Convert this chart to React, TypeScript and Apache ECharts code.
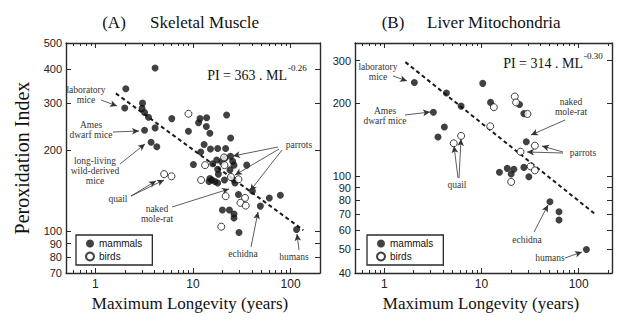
import React, { useEffect, useRef } from "react";
import * as echarts from "echarts";

// ---- Data ----
const muscleMammals: [number, number][] = [
  [2.05, 338], [2.0, 287], [4.09, 404], [3.04, 299], [3.01, 286], [3.19, 276], [3.5, 265], [6.06, 262],
  [3.19, 237], [4.09, 242], [3.72, 214], [4.26, 206],
  [8.98, 235], [11.8, 262], [13.8, 264], [11.4, 253], [13.7, 245], [14.9, 231], [22.1, 270], [24.3, 222],
  [13.0, 210], [15.1, 202], [17.9, 203], [21.6, 203], [12.0, 197], [10.1, 177], [15.9, 178], [17.5, 184],
  [19.7, 181], [21.3, 187], [24.2, 190], [25.5, 182], [26.3, 176], [35.5, 176], [18.2, 163], [14.9, 157],
  [16.8, 153], [14.6, 153], [15.6, 155], [17.9, 151], [21.0, 155], [26.3, 155], [26.9, 151], [40.6, 141],
  [29.2, 137], [60.5, 133], [78.5, 136], [49, 124], [20, 120], [23.6, 120], [26.3, 116], [26.3, 112],
  [29.6, 99], [115, 101.5], [23.9, 169], [17.9, 170],
];
const muscleBirds: [number, number][] = [
  [8.98, 273], [13.3, 176], [21.0, 176], [20.8, 188], [12.1, 155], [24.5, 159], [29.2, 156],
  [21.6, 135], [34.1, 133], [30.6, 127.5], [34.7, 124.5], [19.5, 104], [5.06, 163], [6.02, 160],
];
const muscleFit: [number, number][] = [[1.62, 325], [135, 101]];

const liverMammals: [number, number][] = [
  [2.04, 244], [4.36, 221], [6.17, 195], [10.3, 242], [12.4, 202], [3.2, 184], [4.15, 160], [3.57, 145.5],
  [24.6, 198], [27.3, 181.6], [28.9, 139], [15.3, 104], [18.4, 108], [21.5, 107], [20.2, 102.4],
  [27.3, 109], [30.7, 99.8], [50.6, 78.7], [62.7, 71.5], [62.7, 66.1], [120, 50],
];
const liverBirds: [number, number][] = [
  [13.4, 193], [5.18, 137], [6.17, 147], [12.3, 161], [22, 213.6], [22.7, 202], [29.7, 181],
  [35.4, 134], [25.2, 126.5], [20.2, 95], [32, 110], [35.4, 106],
];
const liverFit: [number, number][] = [[1.65, 296], [144, 70.5]];

const xMajor = [1, 10, 100];
const xMinor = [0.6, 0.7, 0.8, 0.9, 2, 3, 4, 5, 6, 7, 8, 9, 20, 30, 40, 50, 60, 70, 80, 90, 200];
const muscleYTicks = [70, 80, 90, 100, 200, 300, 400, 500];
const liverYTicks = [40, 50, 60, 70, 80, 90, 100, 200, 300];

const SERIF = "'Liberation Serif', 'Times New Roman', serif";
const SANS = "'Liberation Sans', Arial, sans-serif";
const AX = "#2a2a2a";
const INK = "#111";
const NOTE = "#333";

const axisLineStyle = { color: AX, width: 1.4 };

function xAxes(gi: number, min: number, max: number) {
  const base = { type: "log", gridIndex: gi, min, max, splitLine: { show: false } };
  return [
    {
      ...base, position: "bottom",
      axisLine: { show: true, onZero: false, lineStyle: axisLineStyle },
      axisTick: { show: true, inside: true, length: 5, customValues: xMajor, lineStyle: { color: AX, width: 1 } },
      axisLabel: { show: true, customValues: xMajor, color: "#222", fontSize: 12, fontFamily: SANS, margin: 5 },
    },
    {
      ...base, position: "bottom",
      axisLine: { show: false, onZero: false },
      axisTick: { show: true, inside: true, length: 3, customValues: xMinor, lineStyle: { color: AX, width: 1 } },
      axisLabel: { show: false },
    },
    {
      ...base, position: "top",
      axisLine: { show: true, onZero: false, lineStyle: axisLineStyle },
      axisTick: { show: true, inside: true, length: 5, customValues: xMajor, lineStyle: { color: AX, width: 1 } },
      axisLabel: { show: false },
    },
    {
      ...base, position: "top",
      axisLine: { show: false, onZero: false },
      axisTick: { show: true, inside: true, length: 3, customValues: xMinor, lineStyle: { color: AX, width: 1 } },
      axisLabel: { show: false },
    },
  ];
}

function yAxes(gi: number, min: number, max: number, ticks: number[]) {
  const base = { type: "log", gridIndex: gi, min, max, splitLine: { show: false } };
  return [
    {
      ...base, position: "left",
      axisLine: { show: true, onZero: false, lineStyle: axisLineStyle },
      axisTick: { show: true, inside: true, length: 5, customValues: ticks, lineStyle: { color: AX, width: 1 } },
      axisLabel: { show: true, customValues: ticks, color: "#222", fontSize: 11, lineHeight: 10, fontFamily: SANS, margin: 4 },
    },
    {
      ...base, position: "right",
      axisLine: { show: true, onZero: false, lineStyle: axisLineStyle },
      axisTick: { show: true, inside: true, length: 5, customValues: ticks, lineStyle: { color: AX, width: 1 } },
      axisLabel: { show: false },
    },
  ];
}

type Arrow = [number, number, number, number];
const leftArrows: Arrow[] = [
  [101, 100, 117, 106], [113, 132, 139, 131], [120, 164, 145, 144],
  [131, 196, 156, 181], [131, 196, 164, 180], [172, 207, 229, 189],
  [278, 147, 233, 156], [279, 149, 235, 175], [282, 150, 250, 191],
  [251, 247, 258, 212], [299, 250, 297, 234],
];
const rightArrows: Arrow[] = [
  [393, 76, 407, 81], [405, 115, 430, 112], [458, 178, 454, 146], [459, 178, 461, 139],
  [565, 120, 531, 135], [563, 152, 542, 146], [563, 153, 527, 152],
  [534, 232, 548, 205], [565, 258, 582, 252],
];

const notes: { t: string; x: number; y: number }[] = [
  { t: "laboratory\nmice", x: 86, y: 95 },
  { t: "Ames\ndwarf mice", x: 91, y: 130 },
  { t: "long-living\nwild-derived\nmice", x: 95, y: 171 },
  { t: "quail", x: 118, y: 199 },
  { t: "naked\nmole-rat", x: 157, y: 214 },
  { t: "parrots", x: 299, y: 145 },
  { t: "echidna", x: 243, y: 254 },
  { t: "humans", x: 294, y: 257 },
  { t: "laboratory\nmice", x: 378, y: 72 },
  { t: "Ames\ndwarf mice", x: 385, y: 116 },
  { t: "quail", x: 457, y: 185 },
  { t: "naked\nmole-rat", x: 571, y: 107 },
  { t: "parrots", x: 583, y: 153 },
  { t: "echidna", x: 527, y: 240 },
  { t: "humans", x: 550, y: 258 },
];

function arrowMarkLine(arrows: Arrow[]) {
  return {
    silent: true,
    symbol: ["none", "arrow"],
    symbolSize: [5, 7],
    label: { show: false },
    lineStyle: { color: NOTE, width: 0.8, type: "solid" },
    emphasis: { disabled: true },
    data: arrows.map(([x1, y1, x2, y2]) => [{ x: x1, y: y1 }, { x: x2, y: y2 }]),
  };
}

function panelSeries(gi: number, mammals: [number, number][], birds: [number, number][], fit: [number, number][], arrows: Arrow[]) {
  const xi = gi * 4;
  const yi = gi * 2;
  return [
    {
      type: "line", name: "fit", xAxisIndex: xi, yAxisIndex: yi, data: fit, symbol: "none",
      lineStyle: { color: "#1a1a1a", width: 2, type: [4, 3] }, z: 1,
      markLine: arrowMarkLine(arrows),
    },
    {
      type: "scatter", name: "mammals", xAxisIndex: xi, yAxisIndex: yi, data: mammals,
      symbol: "circle", symbolSize: 7, itemStyle: { color: INK }, z: 3,
    },
    {
      type: "scatter", name: "birds", xAxisIndex: xi, yAxisIndex: yi, data: birds,
      symbol: "circle", symbolSize: 7, itemStyle: { color: "#fff", borderColor: INK, borderWidth: 1 }, z: 4,
    },
  ];
}

function legend(left: number) {
  return {
    left, top: 235, orient: "vertical", data: ["mammals", "birds"],
    itemWidth: 8, itemHeight: 8, itemGap: 2, padding: [3, 10, 3, 9],
    borderColor: AX, borderWidth: 1.3, selectedMode: false,
    textStyle: { fontFamily: SANS, fontSize: 10, color: "#111", lineHeight: 11 },
  };
}

export default function App() {
  const ref = useRef<HTMLDivElement>(null);
  useEffect(() => {
    document.body.style.margin = "0";
    const chart = echarts.init(ref.current!, undefined, { renderer: "svg" });
    const graphic: any[] = [
      { type: "text", x: 114, y: 22, style: { text: "(A)", font: `17px ${SERIF}`, fill: INK, textAlign: "center", textVerticalAlign: "middle" } },
      { type: "text", x: 150, y: 22, style: { text: "Skeletal Muscle", font: `17px ${SERIF}`, fill: INK, textAlign: "left", textVerticalAlign: "middle" } },
      { type: "text", x: 393, y: 22, style: { text: "(B)", font: `17px ${SERIF}`, fill: INK, textAlign: "center", textVerticalAlign: "middle" } },
      { type: "text", x: 427, y: 22, style: { text: "Liver Mitochondria", font: `17px ${SERIF}`, fill: INK, textAlign: "left", textVerticalAlign: "middle" } },
      { type: "text", x: 22, y: 158, rotation: Math.PI / 2, style: { text: "Peroxidation Index", font: `20px ${SERIF}`, fill: INK, textAlign: "center", textVerticalAlign: "middle" } },
      { type: "text", x: 190, y: 303, style: { text: "Maximum Longevity (years)", font: `17px ${SERIF}`, fill: INK, textAlign: "center", textVerticalAlign: "middle" } },
      { type: "text", x: 481, y: 303, style: { text: "Maximum Longevity (years)", font: `17px ${SERIF}`, fill: INK, textAlign: "center", textVerticalAlign: "middle" } },
      { type: "text", x: 287, y: 75, style: { text: "PI = 363 . ML", font: `14px ${SERIF}`, fill: INK, textAlign: "right", textVerticalAlign: "middle" } },
      { type: "text", x: 288, y: 68, style: { text: "-0.26", font: `9px ${SERIF}`, fill: INK, textAlign: "left", textVerticalAlign: "middle" } },
      { type: "text", x: 583, y: 63, style: { text: "PI = 314 . ML", font: `14px ${SERIF}`, fill: INK, textAlign: "right", textVerticalAlign: "middle" } },
      { type: "text", x: 584, y: 56, style: { text: "-0.30", font: `9px ${SERIF}`, fill: INK, textAlign: "left", textVerticalAlign: "middle" } },
      ...notes.map((n) => ({
        type: "text", x: n.x, y: n.y, z: 10,
        style: { text: n.t, font: `9.5px ${SERIF}`, fill: NOTE, textAlign: "center", textVerticalAlign: "middle", lineHeight: 10 },
      })),
    ];
    chart.setOption({
      animation: false,
      backgroundColor: "#fff",
      grid: [
        { left: 66, top: 43, width: 254, height: 230 },
        { left: 355, top: 43, width: 257, height: 230 },
      ],
      xAxis: [...xAxes(0, 0.5, 200), ...xAxes(1, 0.5, 220)],
      yAxis: [...yAxes(0, 70, 500, muscleYTicks), ...yAxes(1, 40, 355, liverYTicks)],
      legend: [legend(76), legend(367)],
      series: [
        ...panelSeries(0, muscleMammals, muscleBirds, muscleFit, leftArrows),
        ...panelSeries(1, liverMammals, liverBirds, liverFit, rightArrows),
      ],
      graphic,
    } as any);
    return () => chart.dispose();
  }, []);
  return <div ref={ref} style={{ width: 640, height: 321 }} />;
}
